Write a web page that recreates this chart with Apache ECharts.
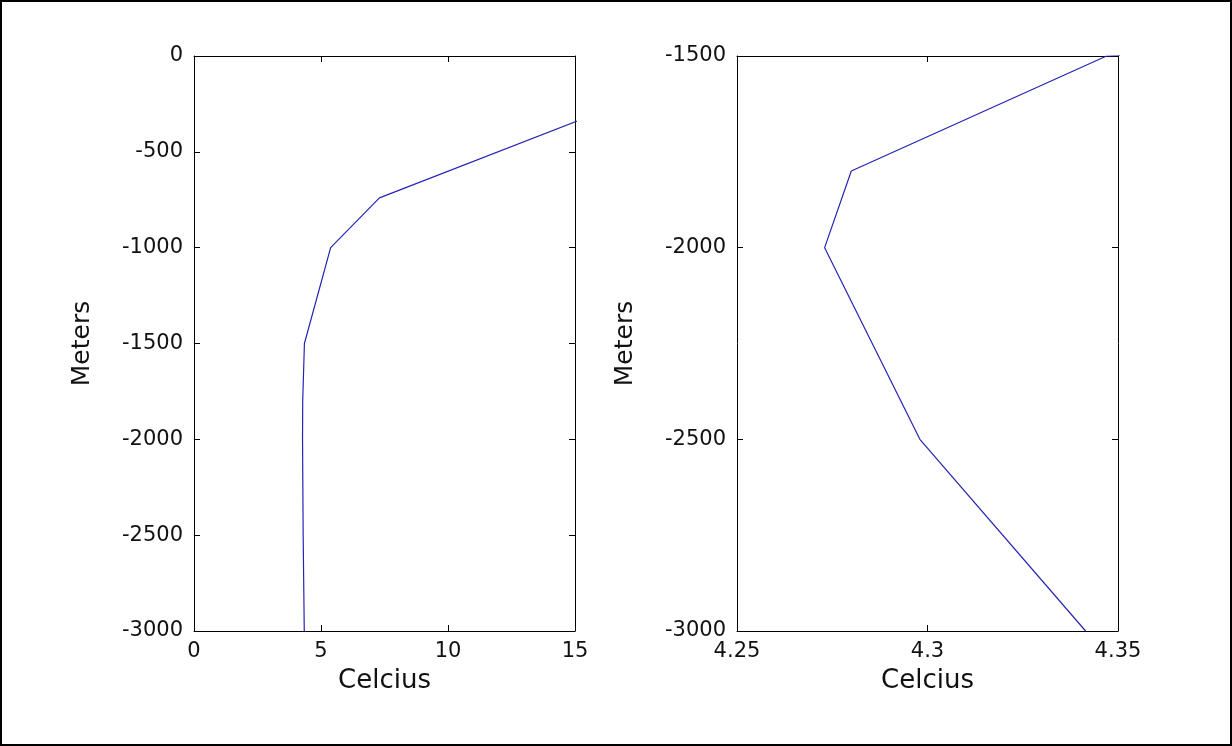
<!DOCTYPE html>
<html>
<head>
<meta charset="utf-8">
<script src="https://cdn.jsdelivr.net/npm/echarts@6/dist/echarts.min.js"></script>
<style>
html,body{margin:0;padding:0;background:#fff;}
#chart{width:1232px;height:746px;}
</style>
</head>
<body>
<div id="chart"></div>
<script>
// Temperature profile (depth in meters, temperature in Celsius)
const depthMeters = [0, -740, -1000, -1500, -1800, -2000, -2500, -3000];
const tempCelsius = [21.7, 7.3, 5.38, 4.347, 4.280, 4.273, 4.298, 4.3415];

// Axis settings per panel
const leftXRange = [0, 15];
const leftXInterval = 5;
const leftYRange = [-3000, 0];
const rightXRange = [4.25, 4.35];
const rightXInterval = 0.05;
const rightYRange = [-3000, -1500];
const yInterval = 500;
const xTitle = 'Celcius';
const yTitle = 'Meters';

const points = tempCelsius.map((t, i) => [t, depthMeters[i]]);

const FONT = 'DejaVu Sans';
const lineCol = '#000';
const blue = '#2424b4';
const fmt = v => String(+(+v).toFixed(4));

function xAx(gi, range, interval, main) {
  return {
    type: 'value', gridIndex: gi, min: range[0], max: range[1], interval: interval,
    position: main ? 'bottom' : 'top',
    axisLine: {show: true, onZero: false, lineStyle: {color: lineCol, width: 1}},
    axisTick: {show: true, inside: true, length: 6, lineStyle: {color: lineCol}},
    axisLabel: {show: main, color: '#111', fontFamily: FONT, fontSize: 21, margin: 10,
      showMinLabel: true, showMaxLabel: true, formatter: fmt},
    splitLine: {show: false},
    name: main ? xTitle : '', nameLocation: 'middle', nameGap: 37,
    nameTextStyle: {color: '#111', fontFamily: FONT, fontSize: 26}
  };
}
function yAx(gi, range, main) {
  return {
    type: 'value', gridIndex: gi, min: range[0], max: range[1], interval: yInterval,
    position: main ? 'left' : 'right',
    axisLine: {show: true, onZero: false, lineStyle: {color: lineCol, width: 1}},
    axisTick: {show: true, inside: true, length: 6, lineStyle: {color: lineCol}},
    axisLabel: {show: main, color: '#111', fontFamily: FONT, fontSize: 21, margin: 11,
      showMinLabel: true, showMaxLabel: true, formatter: fmt},
    splitLine: {show: false},
    name: main ? yTitle : '', nameLocation: 'middle', nameGap: 99, nameRotate: 90,
    nameTextStyle: {color: '#111', fontFamily: FONT, fontSize: 25}
  };
}

const chart = echarts.init(document.getElementById('chart'), null, {renderer: 'canvas'});
chart.setOption({
  backgroundColor: '#fff',
  animation: false,
  grid: [
    {left: 194, top: 56, width: 381, height: 575},
    {left: 737, top: 56, width: 381, height: 575}
  ],
  xAxis: [
    xAx(0, leftXRange, leftXInterval, true),
    xAx(0, leftXRange, leftXInterval, false),
    xAx(1, rightXRange, rightXInterval, true),
    xAx(1, rightXRange, rightXInterval, false)
  ],
  yAxis: [
    yAx(0, leftYRange, true),
    yAx(0, leftYRange, false),
    yAx(1, rightYRange, true),
    yAx(1, rightYRange, false)
  ],
  series: [
    {type: 'line', xAxisIndex: 0, yAxisIndex: 0, data: points, symbol: 'none', clip: true,
     lineStyle: {color: blue, width: 1.2}},
    {type: 'line', xAxisIndex: 2, yAxisIndex: 2, data: points, symbol: 'none', clip: true,
     lineStyle: {color: blue, width: 1.2}}
  ],
  graphic: [
    {type: 'rect', shape: {x: 1, y: 1, width: 1230, height: 744},
     style: {fill: null, stroke: '#000', lineWidth: 2}, silent: true}
  ]
});
</script>
</body>
</html>
